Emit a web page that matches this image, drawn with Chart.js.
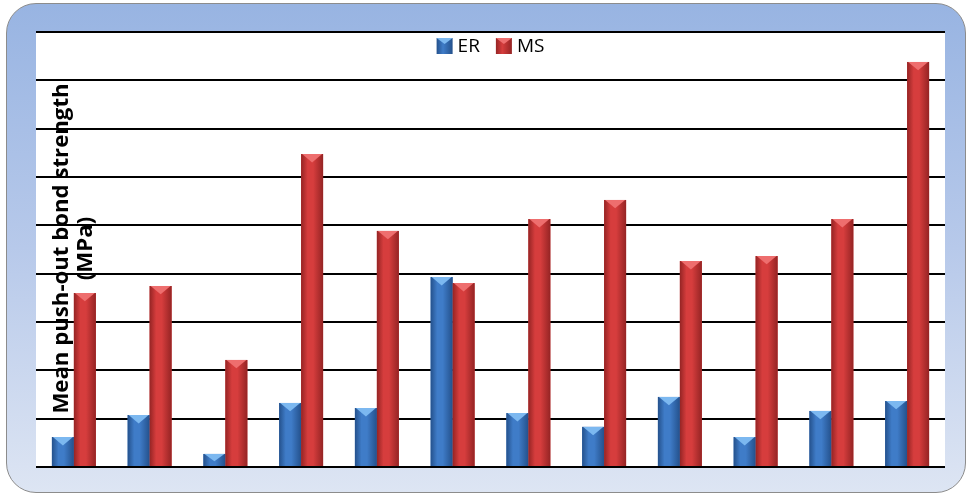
<!DOCTYPE html>
<html>
<head>
<meta charset="utf-8">
<script src="https://cdn.jsdelivr.net/npm/chart.js@4"></script>
<style>
  html, body { margin: 0; padding: 0; background: #fff; overflow: hidden; }
  #frame {
    position: absolute; left: 6px; top: 3px; width: 958px; height: 488px;
    border: 1.5px solid #8c8c8c; border-radius: 30px;
    background: linear-gradient(to bottom, #98b4e2 0%, #b7c9ea 50%, #dde5f3 100%);
  }
  #wrap { position: absolute; left: 0; top: 0; width: 969px; height: 496px; }
</style>
</head>
<body>
<div id="frame"></div>
<div id="wrap"><canvas id="myChart" width="969" height="496"></canvas></div>
<script>
var groups = ['1', '2', '3', '4', '5', '6', '7', '8', '9', '10', '11', '12'];
var erValues = [1.24, 2.15, 0.54, 2.65, 2.44, 7.86, 2.23, 1.66, 2.90, 1.24, 2.32, 2.73];
var msValues = [7.20, 7.49, 4.43, 12.95, 9.77, 7.61, 10.26, 11.05, 8.52, 8.73, 10.26, 16.76];
var yTicks = [0, 2, 4, 6, 8, 10, 12, 14, 16, 18];

// barvy: hlavní, okraj, světlý trojúhelník nahoře
var palette = [
    { main: '#3f7cc8', edge: '#24518c', light: '#7cb8f0' },
    { main: '#d63d3d', edge: '#952424', light: '#ee6e6e' }
];

// bílé pozadí plochy grafu
var plotBg = {
    id: 'plotBg',
    beforeDraw: function (chart) {
        var a = chart.chartArea, c = chart.ctx;
        c.save();
        c.fillStyle = '#ffffff';
        c.fillRect(a.left, a.top, a.right - a.left, a.bottom - a.top);
        c.restore();
    }
};

// válcové stínování sloupců + zkosený vršek
var bevel = {
    id: 'bevel',
    afterDatasetsDraw: function (chart) {
        var c = chart.ctx;
        chart.data.datasets.forEach(function (ds, i) {
            var col = palette[i];
            chart.getDatasetMeta(i).data.forEach(function (bar) {
                var w = bar.width, l = bar.x - w / 2, r = bar.x + w / 2;
                var t = bar.y, b = bar.base;
                c.save();
                var g = c.createLinearGradient(l, 0, r, 0);
                g.addColorStop(0, col.edge);
                g.addColorStop(0.3, col.main);
                g.addColorStop(0.55, col.main);
                g.addColorStop(1, col.edge);
                c.fillStyle = g;
                c.fillRect(l, t, w, b - t);
                var h = Math.min(w * 0.38, (b - t) * 0.6);
                c.fillStyle = col.light;
                c.beginPath();
                c.moveTo(l + 1, t);
                c.lineTo(r - 1, t);
                c.lineTo(bar.x, t + h);
                c.closePath();
                c.fill();
                c.restore();
            });
        });
    }
};

// legenda a popisek osy y uvnitř plochy
var labels = {
    id: 'labels',
    afterDraw: function (chart) {
        var a = chart.chartArea, c = chart.ctx;
        c.save();
        // legenda
        var cx = (a.left + a.right) / 2;
        var y = a.top + 14;
        c.font = '19px "Open Sans", sans-serif';
        c.textBaseline = 'middle';
        var items = [['ER', 0], ['MS', 1]];
        var widths = items.map(function (it) { return 16 + 5 + c.measureText(it[0]).width; });
        var total = widths[0] + widths[1] + 16;
        var x = cx - total / 2;
        items.forEach(function (it, k) {
            var col = palette[it[1]];
            var g = c.createLinearGradient(x, 0, x + 16, 0);
            g.addColorStop(0, col.edge); g.addColorStop(0.4, col.main); g.addColorStop(1, col.edge);
            c.fillStyle = g;
            c.fillRect(x, y - 8, 16, 16);
            c.fillStyle = col.light;
            c.beginPath(); c.moveTo(x, y - 8); c.lineTo(x + 16, y - 8); c.lineTo(x + 8, y - 2); c.closePath(); c.fill();
            c.fillStyle = '#000';
            c.textAlign = 'left';
            c.fillText(it[0], x + 21, y + 1);
            x += widths[k] + 16;
        });
        // osa y
        var line1 = 'Mean push-out bond strength', line2 = '(MPa)';
        c.font = 'bold 20px "Open Sans", sans-serif';
        var size = 20 * 330 / c.measureText(line1).width;
        c.font = 'bold ' + size.toFixed(1) + 'px "Open Sans", sans-serif';
        c.translate(a.left + 26, (a.top + a.bottom) / 2 - 1);
        c.rotate(-Math.PI / 2);
        c.textAlign = 'center';
        c.fillStyle = '#000';
        c.fillText(line1, 0, 0);
        c.fillText(line2, 0, 24);
        c.restore();
    }
};

var ctx = document.getElementById('myChart').getContext('2d');
var myChart = new Chart(ctx, {
    type: 'bar',
    data: {
        labels: groups,
        datasets: [
            { label: 'ER', data: erValues, backgroundColor: palette[0].main },
            { label: 'MS', data: msValues, backgroundColor: palette[1].main }
        ]
    },
    options: {
        responsive: false,
        animation: false,
        devicePixelRatio: 1,
        layout: { padding: { left: 36, right: 24, top: 32, bottom: 21 } },
        datasets: { bar: { categoryPercentage: 0.58, barPercentage: 1.0 } },
        plugins: { legend: { display: false }, tooltip: { enabled: false } },
        scales: {
            x: {
                grid: { display: false },
                border: { display: false },
                ticks: { display: false }
            },
            y: {
                min: 0,
                max: yTicks[yTicks.length - 1],
                afterBuildTicks: function (s) { s.ticks = yTicks.map(function (v) { return { value: v }; }); },
                grid: { color: '#000', lineWidth: 2, drawTicks: false },
                border: { display: false },
                ticks: { display: false }
            }
        }
    },
    plugins: [plotBg, bevel, labels]
});
</script>
</body>
</html>
